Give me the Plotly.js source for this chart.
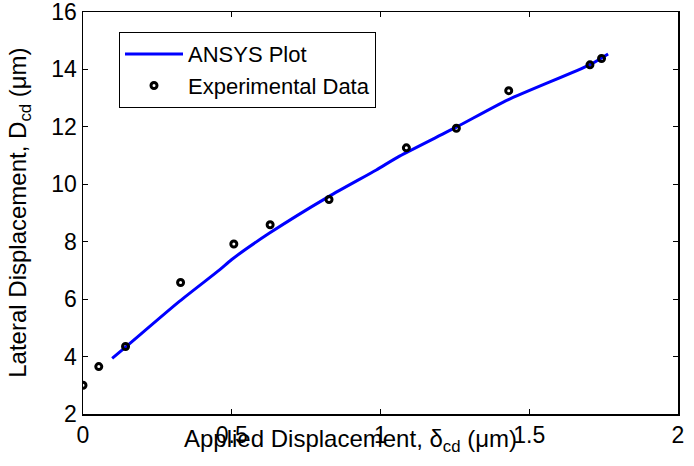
<!DOCTYPE html>
<html>
<head>
<meta charset="utf-8">
<script src="https://cdn.plot.ly/plotly-3.0.1.min.js"></script>
<style>html,body{margin:0;padding:0;background:#fff;}#chart{width:694px;height:466px;}</style>
</head>
<body>
<div id="chart"></div>
<script>
// ANSYS simulation curve
const ansysX = [0.098, 0.143, 0.325, 0.459, 0.50, 0.627, 0.827, 0.986, 1.064, 1.255, 1.428, 1.703, 1.765];
const ansysY = [3.94, 4.33, 5.93, 7.02, 7.38, 8.30, 9.58, 10.50, 10.98, 11.99, 12.94, 14.16, 14.54];
// Experimental data
const expX = [0.0, 0.053, 0.143, 0.328, 0.507, 0.629, 0.827, 1.087, 1.255, 1.431, 1.704, 1.743];
const expY = [3.0, 3.65, 4.35, 6.58, 7.92, 8.59, 9.47, 11.27, 11.95, 13.26, 14.16, 14.38];
const xTicks = [0, 0.5, 1, 1.5, 2];
const xTickText = ['0', '0.5', '1', '1.5', '2'];
const yTicks = [2, 4, 6, 8, 10, 12, 14, 16];
const yTickText = ['2', '4', '6', '8', '10', '12', '14', '16'];

const FONT = 'Liberation Sans, Arial, Helvetica, sans-serif';

const traces = [
  {x: ansysX, y: ansysY, type: 'scatter', mode: 'lines', name: 'ANSYS Plot',
   line: {color: '#0000ff', width: 3, shape: 'spline', smoothing: 0.6}},
  {x: expX, y: expY, type: 'scatter', mode: 'markers', name: 'Experimental Data',
   marker: {symbol: 'circle-open', size: 6, color: '#000', line: {color: '#000', width: 3}}}
];

const axisCommon = {
  showgrid: false, zeroline: false, showline: true, linecolor: '#000', linewidth: 1.5,
  mirror: 'ticks', ticks: 'inside', ticklen: 5, tickwidth: 1, tickcolor: '#000',
  ticklabeloverflow: 'allow',
  tickfont: {family: FONT, size: 23, color: '#000'}
};

const layout = {
  width: 694, height: 466,
  margin: {l: 83, r: 16, t: 12, b: 52},
  paper_bgcolor: '#fff', plot_bgcolor: '#fff',
  font: {family: FONT, color: '#000'},
  xaxis: Object.assign({}, axisCommon, {range: [0, 2], tickvals: xTicks, ticktext: xTickText}),
  yaxis: Object.assign({}, axisCommon, {range: [2, 16.0001], tickvals: yTicks, ticktext: yTickText}),
  showlegend: true,
  legend: {x: 0.0605, y: 0.95, xanchor: 'left', yanchor: 'top',
    bordercolor: '#000', borderwidth: 1, bgcolor: '#fff',
    font: {family: FONT, size: 22, color: '#000'}, itemwidth: 58, tracegroupgap: 0,
    entrywidth: 268, entrywidthmode: 'pixels'},
  annotations: [
    {text: 'Applied Displacement, δ<sub>cd</sub> (μm)', xref: 'paper', yref: 'paper',
     x: 0.45, y: -0.065, xanchor: 'center', yanchor: 'middle', showarrow: false,
     font: {family: FONT, size: 24, color: '#000'}},
    {text: 'Lateral Displacement, D<sub>cd</sub> (μm)', xref: 'paper', yref: 'paper',
     x: -0.108, y: 0.5, xanchor: 'center', yanchor: 'middle', textangle: -90, showarrow: false,
     font: {family: FONT, size: 24, color: '#000'}}
  ]
};

Plotly.newPlot('chart', traces, layout, {staticPlot: true, displayModeBar: false});
</script>
</body>
</html>
